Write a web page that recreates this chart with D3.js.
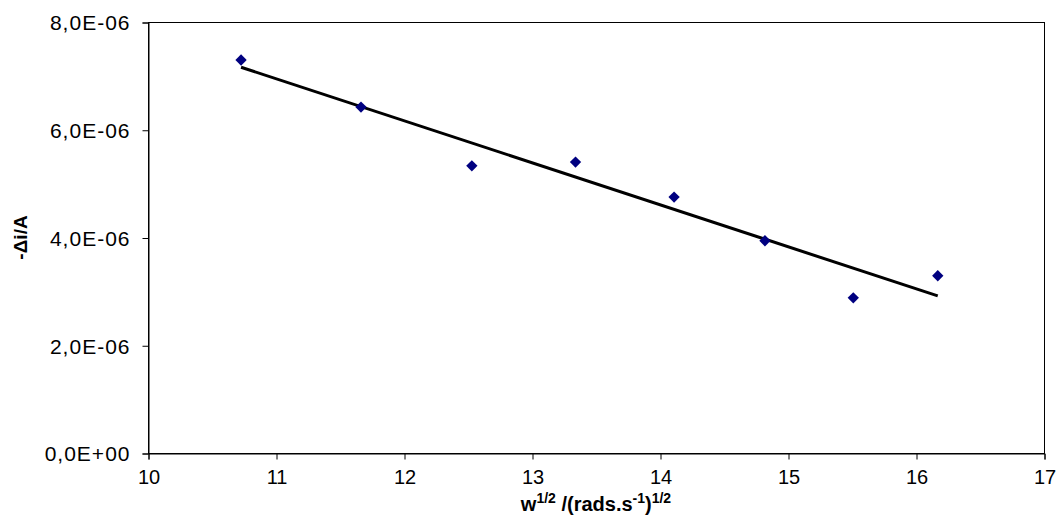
<!DOCTYPE html>
<html>
<head>
<meta charset="utf-8">
<script src="https://cdn.jsdelivr.net/npm/d3@7"></script>
<style>
  html, body { margin: 0; padding: 0; background: #fff; }
  svg { display: block; font-family: "Liberation Sans", Arial, sans-serif; }
</style>
</head>
<body>
<svg id="chart" width="1057" height="518"></svg>
<script>
// Measured rotation-rate data: w^1/2 vs -Δi
const omegaRoot = [10.727, 11.664, 12.53, 13.34, 14.11, 14.82, 15.51, 16.17];
const deltaI = [7.295e-6, 6.42e-6, 5.33e-6, 5.40e-6, 4.75e-6, 3.94e-6, 2.88e-6, 3.29e-6];
const xTicks = [10, 11, 12, 13, 14, 15, 16, 17];
const yTicks = [0, 2e-6, 4e-6, 6e-6, 8e-6];
const yTickLabels = ["0,0E+00", "2,0E-06", "4,0E-06", "6,0E-06", "8,0E-06"];

const svg = d3.select("#chart");
const plotLeft = 148, plotRight = 1044, plotTop = 22, plotBottom = 453;

const x = d3.scaleLinear().domain([10, 17]).range([plotLeft, plotRight]);
const y = d3.scaleLinear().domain([0, 8e-6]).range([plotBottom, plotTop]);

// Plot frame
svg.append("rect")
  .attr("x", plotLeft + 0.5).attr("y", plotTop + 0.5)
  .attr("width", plotRight - plotLeft).attr("height", plotBottom - plotTop)
  .attr("fill", "none").attr("stroke", "#000").attr("stroke-width", 1);

// Axes
const xAxis = svg.append("g")
  .attr("transform", `translate(0.5,${plotBottom + 0.5})`)
  .call(d3.axisBottom(x).tickValues(xTicks).tickSize(6).tickPadding(10).tickFormat(d3.format("d")));
const yAxis = svg.append("g")
  .attr("transform", `translate(${plotLeft + 0.5},0.5)`)
  .call(d3.axisLeft(y).tickValues(yTicks).tickSize(6).tickPadding(12)
    .tickFormat((d, i) => yTickLabels[i]));

[xAxis, yAxis].forEach(g => {
  g.select(".domain").attr("stroke", "#000");
  g.selectAll(".tick line").attr("stroke", "#000");
  g.selectAll(".tick text")
    .attr("fill", "#000")
    .style("font-family", '"Liberation Sans", Arial, sans-serif')
    .style("font-size", "20px");
});
yAxis.selectAll(".tick text")
  .style("font-size", "21px")
  .style("letter-spacing", "1px")
  .attr("dy", "0.35em");

// Least-squares trendline over the data range
const n = omegaRoot.length;
const mx = d3.mean(omegaRoot), my = d3.mean(deltaI);
let sxy = 0, sxx = 0;
for (let i = 0; i < n; i++) {
  sxy += (omegaRoot[i] - mx) * (deltaI[i] - my);
  sxx += (omegaRoot[i] - mx) ** 2;
}
const slope = sxy / sxx, intercept = my - slope * mx;
const x0 = d3.min(omegaRoot), x1 = d3.max(omegaRoot);
svg.append("line")
  .attr("x1", x(x0)).attr("y1", y(intercept + slope * x0))
  .attr("x2", x(x1)).attr("y2", y(intercept + slope * x1))
  .attr("stroke", "#000").attr("stroke-width", 3);

// Data markers (diamonds)
svg.append("g").selectAll("path")
  .data(omegaRoot.map((d, i) => [d, deltaI[i]]))
  .join("path")
  .attr("d", d3.symbol().type(d3.symbolSquare).size(64))
  .attr("transform", d => `translate(${x(d[0])},${y(d[1])}) rotate(45)`)
  .attr("fill", "#000080");

// Axis titles
svg.append("text")
  .attr("transform", `translate(27,${(plotTop + plotBottom) / 2}) rotate(-90)`)
  .attr("text-anchor", "middle")
  .style("font-size", "19px").style("font-weight", "bold")
  .text("-Δi/A");

const xt = svg.append("text")
  .attr("x", (plotLeft + plotRight) / 2).attr("y", 511)
  .attr("text-anchor", "middle")
  .style("font-size", "20px").style("font-weight", "bold");
xt.append("tspan").text("w");
xt.append("tspan").attr("dy", -8).style("font-size", "14px").text("1/2");
xt.append("tspan").attr("dy", 8).text(" /(rads.s");
xt.append("tspan").attr("dy", -8).style("font-size", "14px").text("-1");
xt.append("tspan").attr("dy", 8).text(")");
xt.append("tspan").attr("dy", -8).style("font-size", "14px").text("1/2");
</script>
</body>
</html>
